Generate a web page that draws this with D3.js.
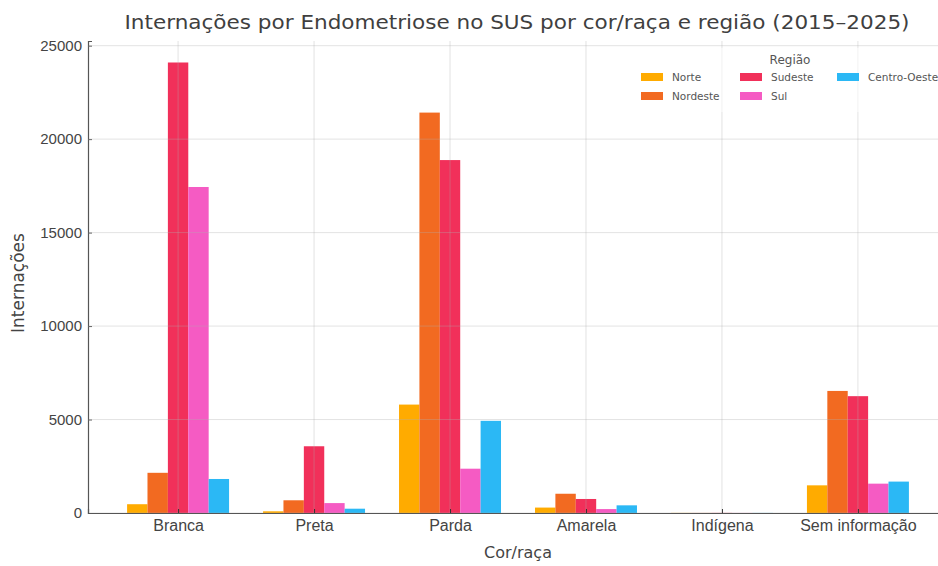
<!DOCTYPE html>
<html>
<head>
<meta charset="utf-8">
<script src="https://cdn.jsdelivr.net/npm/d3@7"></script>
<style>
  body { margin: 0; background: #fff; }
  svg { display: block; font-family: "DejaVu Sans", sans-serif; }
</style>
</head>
<body>
<div id="chart"></div>
<script>
//------------------------------------------------------------------------ Data
var categories = ["Branca", "Preta", "Parda", "Amarela", "Indígena", "Sem informação"];
var regions = ["Norte", "Nordeste", "Sudeste", "Sul", "Centro-Oeste"];
var regionColors = ["#ffab00", "#f26a21", "#f1305a", "#f55bc3", "#2bb8f5"];

// internações por região, na ordem das categorias
var norte       = [470, 90, 5800, 290, 6, 1480];
var nordeste    = [2150, 680, 21420, 1030, 5, 6530];
var sudeste     = [24100, 3570, 18880, 750, 7, 6250];
var sul         = [17440, 530, 2370, 210, 4, 1570];
var centroOeste = [1820, 230, 4930, 410, 5, 1680];
var series = [norte, nordeste, sudeste, sul, centroOeste];

var yTicks = [0, 5000, 10000, 15000, 20000, 25000];

//------------------------------------------------------------------------ Variables
var W = 938, H = 566;
var margin = {top: 41, right: -10, bottom: 53, left: 88},
    width = W - margin.left - margin.right,
    height = H - margin.top - margin.bottom;

var svg = d3.select("#chart").append("svg")
  .attr("width", W)
  .attr("height", H);

var g = svg.append("g")
  .attr("transform", "translate(" + margin.left + "," + margin.top + ")");

// x: posição da categoria em unidades de dados
var x = d3.scaleLinear().domain([-0.6625, 5.6625]).range([0, width]);
var barW = 0.15;
var y = d3.scaleLinear().domain([0, 25250]).range([height, 0]);

//------------------------------------------------------------------------ Bars
series.forEach(function(vals, r){
  g.selectAll(".bar" + r)
    .data(vals)
    .enter().append("rect")
    .attr("x", function(d, i){ return x(i + (r - 2.5) * barW); })
    .attr("y", function(d){ return y(d); })
    .attr("width", x(barW) - x(0))
    .attr("height", function(d){ return height - y(d); })
    .attr("fill", regionColors[r]);
});

//------------------------------------------------------------------------ Grid (drawn over bars)
g.append("g")
  .selectAll("line.hg").data(yTicks).enter().append("line")
  .attr("x1", 0).attr("x2", width)
  .attr("y1", function(d){ return y(d); }).attr("y2", function(d){ return y(d); })
  .attr("stroke", "#b0b0b0").attr("stroke-opacity", 0.35).attr("stroke-width", 1);

g.append("g")
  .selectAll("line.vg").data(categories).enter().append("line")
  .attr("x1", function(d, i){ return x(i); }).attr("x2", function(d, i){ return x(i); })
  .attr("y1", 0).attr("y2", height)
  .attr("stroke", "#b0b0b0").attr("stroke-opacity", 0.35).attr("stroke-width", 1);

//------------------------------------------------------------------------ Axes
var yAxis = d3.axisLeft(y).tickValues(yTicks).tickSize(-4).tickPadding(6).tickFormat(d3.format("d"));
var gy = g.append("g").call(yAxis);
gy.select(".domain").attr("stroke", "#555").attr("stroke-width", 1.2);
gy.selectAll(".tick line").attr("stroke", "#666");
gy.selectAll("text").attr("font-size", "15px").attr("fill", "#444");

var xAxis = d3.axisBottom(x).tickValues(d3.range(categories.length))
  .tickFormat(function(i){ return categories[i]; }).tickSize(-4).tickPadding(7);
var gx = g.append("g").attr("transform", "translate(0," + height + ")").call(xAxis);
gx.select(".domain").attr("stroke", "#555").attr("stroke-width", 1.2);
gx.selectAll(".tick line").attr("stroke", "#333");
gx.selectAll("text").attr("font-size", "16px").attr("fill", "#444");

//------------------------------------------------------------------------ Labels
svg.append("text")
  .attr("x", 517).attr("y", 29)
  .attr("text-anchor", "middle")
  .attr("font-size", "20px").attr("fill", "#3f3f3f")
  .attr("textLength", 785).attr("lengthAdjust", "spacingAndGlyphs")
  .text("Internações por Endometriose no SUS por cor/raça e região (2015–2025)");

svg.append("text")
  .attr("x", 518).attr("y", 558)
  .attr("text-anchor", "middle")
  .attr("font-size", "16px").attr("fill", "#444")
  .text("Cor/raça");

svg.append("text")
  .attr("transform", "translate(24," + (margin.top + height / 2 + 6) + ") rotate(-90)")
  .attr("text-anchor", "middle")
  .attr("font-size", "17px").attr("fill", "#444")
  .text("Internações");

//------------------------------------------------------------------------ Legend
var legend = svg.append("g").attr("transform", "translate(633,48)");
legend.append("rect")
  .attr("x", 0).attr("y", 0).attr("width", 320).attr("height", 64)
  .attr("fill", "#fff").attr("fill-opacity", 0.5);
legend.append("text")
  .attr("x", 157).attr("y", 16)
  .attr("text-anchor", "middle")
  .attr("font-size", "12px").attr("fill", "#555")
  .text("Região");

var colX = [8, 107, 204];
regions.forEach(function(name, r){
  var col = Math.floor(r / 2), row = r % 2;
  var item = legend.append("g")
    .attr("transform", "translate(" + colX[col] + "," + (25 + row * 19) + ")");
  item.append("rect")
    .attr("width", 22).attr("height", 8)
    .attr("fill", regionColors[r]);
  item.append("text")
    .attr("x", 31).attr("y", 8)
    .attr("font-size", "10.5px").attr("fill", "#555")
    .text(name);
});
</script>
</body>
</html>
